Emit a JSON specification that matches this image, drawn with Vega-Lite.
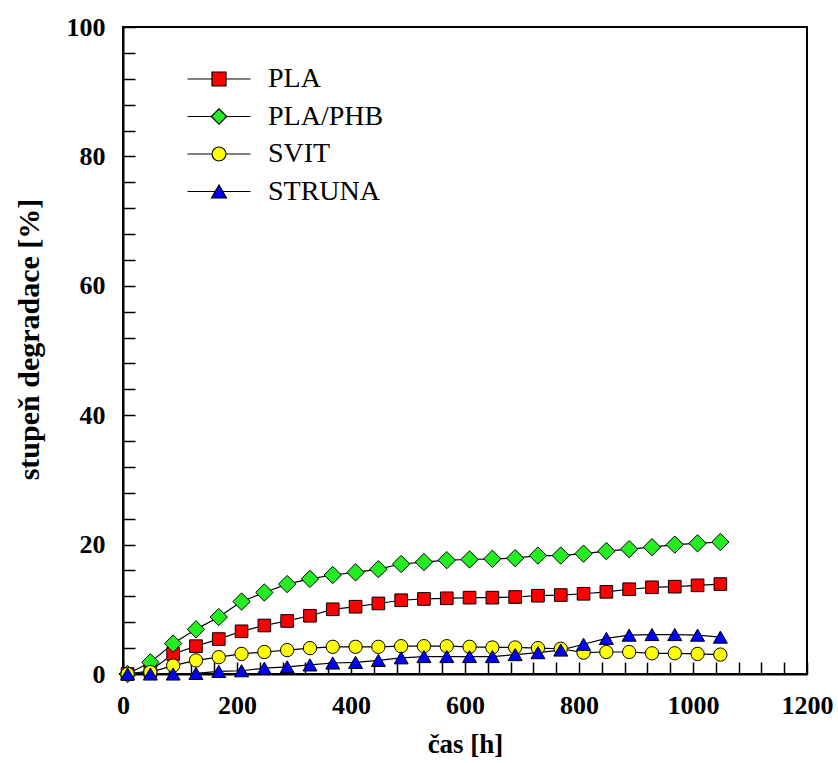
{
  "$schema": "https://vega.github.io/schema/vega-lite/v6.json",
  "width": 684,
  "height": 647,
  "autosize": "none",
  "padding": {"left": 123, "top": 27, "right": 31, "bottom": 89},
  "background": "white",
  "config": {
    "view": {"stroke": "black", "strokeWidth": 2},
    "font": "Liberation Serif"
  },
  "data": {"values": [
    {"t": 8, "s": "PLA", "v": 0}, {"t": 48, "s": "PLA", "v": 0.5}, {"t": 88, "s": "PLA", "v": 3.1}, {"t": 128, "s": "PLA", "v": 4.3}, {"t": 168, "s": "PLA", "v": 5.4}, {"t": 208, "s": "PLA", "v": 6.6}, {"t": 248, "s": "PLA", "v": 7.5}, {"t": 288, "s": "PLA", "v": 8.2}, {"t": 328, "s": "PLA", "v": 9.0}, {"t": 368, "s": "PLA", "v": 10.0}, {"t": 408, "s": "PLA", "v": 10.4}, {"t": 448, "s": "PLA", "v": 10.9}, {"t": 488, "s": "PLA", "v": 11.4}, {"t": 528, "s": "PLA", "v": 11.6}, {"t": 568, "s": "PLA", "v": 11.7}, {"t": 608, "s": "PLA", "v": 11.8}, {"t": 648, "s": "PLA", "v": 11.8}, {"t": 688, "s": "PLA", "v": 11.9}, {"t": 728, "s": "PLA", "v": 12.1}, {"t": 768, "s": "PLA", "v": 12.2}, {"t": 808, "s": "PLA", "v": 12.4}, {"t": 848, "s": "PLA", "v": 12.7}, {"t": 888, "s": "PLA", "v": 13.1}, {"t": 928, "s": "PLA", "v": 13.4}, {"t": 968, "s": "PLA", "v": 13.5}, {"t": 1008, "s": "PLA", "v": 13.7}, {"t": 1048, "s": "PLA", "v": 13.9},
    {"t": 8, "s": "PLA/PHB", "v": 0}, {"t": 48, "s": "PLA/PHB", "v": 1.8}, {"t": 88, "s": "PLA/PHB", "v": 4.7}, {"t": 128, "s": "PLA/PHB", "v": 6.9}, {"t": 168, "s": "PLA/PHB", "v": 8.8}, {"t": 208, "s": "PLA/PHB", "v": 11.2}, {"t": 248, "s": "PLA/PHB", "v": 12.6}, {"t": 288, "s": "PLA/PHB", "v": 13.9}, {"t": 328, "s": "PLA/PHB", "v": 14.7}, {"t": 368, "s": "PLA/PHB", "v": 15.3}, {"t": 408, "s": "PLA/PHB", "v": 15.7}, {"t": 448, "s": "PLA/PHB", "v": 16.2}, {"t": 488, "s": "PLA/PHB", "v": 17.0}, {"t": 528, "s": "PLA/PHB", "v": 17.3}, {"t": 568, "s": "PLA/PHB", "v": 17.6}, {"t": 608, "s": "PLA/PHB", "v": 17.7}, {"t": 648, "s": "PLA/PHB", "v": 17.8}, {"t": 688, "s": "PLA/PHB", "v": 17.9}, {"t": 728, "s": "PLA/PHB", "v": 18.3}, {"t": 768, "s": "PLA/PHB", "v": 18.3}, {"t": 808, "s": "PLA/PHB", "v": 18.6}, {"t": 848, "s": "PLA/PHB", "v": 19.0}, {"t": 888, "s": "PLA/PHB", "v": 19.3}, {"t": 928, "s": "PLA/PHB", "v": 19.6}, {"t": 968, "s": "PLA/PHB", "v": 20.0}, {"t": 1008, "s": "PLA/PHB", "v": 20.2}, {"t": 1048, "s": "PLA/PHB", "v": 20.4},
    {"t": 8, "s": "SVIT", "v": 0}, {"t": 48, "s": "SVIT", "v": 0.3}, {"t": 88, "s": "SVIT", "v": 1.3}, {"t": 128, "s": "SVIT", "v": 2.1}, {"t": 168, "s": "SVIT", "v": 2.6}, {"t": 208, "s": "SVIT", "v": 3.1}, {"t": 248, "s": "SVIT", "v": 3.4}, {"t": 288, "s": "SVIT", "v": 3.7}, {"t": 328, "s": "SVIT", "v": 4.0}, {"t": 368, "s": "SVIT", "v": 4.2}, {"t": 408, "s": "SVIT", "v": 4.2}, {"t": 448, "s": "SVIT", "v": 4.2}, {"t": 488, "s": "SVIT", "v": 4.3}, {"t": 528, "s": "SVIT", "v": 4.3}, {"t": 568, "s": "SVIT", "v": 4.3}, {"t": 608, "s": "SVIT", "v": 4.2}, {"t": 648, "s": "SVIT", "v": 4.1}, {"t": 688, "s": "SVIT", "v": 4.1}, {"t": 728, "s": "SVIT", "v": 4.0}, {"t": 768, "s": "SVIT", "v": 3.9}, {"t": 808, "s": "SVIT", "v": 3.3}, {"t": 848, "s": "SVIT", "v": 3.4}, {"t": 888, "s": "SVIT", "v": 3.4}, {"t": 928, "s": "SVIT", "v": 3.2}, {"t": 968, "s": "SVIT", "v": 3.2}, {"t": 1008, "s": "SVIT", "v": 3.1}, {"t": 1048, "s": "SVIT", "v": 3.0},
    {"t": 8, "s": "STRUNA", "v": 0}, {"t": 48, "s": "STRUNA", "v": 0}, {"t": 88, "s": "STRUNA", "v": 0}, {"t": 128, "s": "STRUNA", "v": 0.1}, {"t": 168, "s": "STRUNA", "v": 0.4}, {"t": 208, "s": "STRUNA", "v": 0.5}, {"t": 248, "s": "STRUNA", "v": 0.9}, {"t": 288, "s": "STRUNA", "v": 1.1}, {"t": 328, "s": "STRUNA", "v": 1.4}, {"t": 368, "s": "STRUNA", "v": 1.7}, {"t": 408, "s": "STRUNA", "v": 1.8}, {"t": 448, "s": "STRUNA", "v": 2.1}, {"t": 488, "s": "STRUNA", "v": 2.5}, {"t": 528, "s": "STRUNA", "v": 2.7}, {"t": 568, "s": "STRUNA", "v": 2.7}, {"t": 608, "s": "STRUNA", "v": 2.7}, {"t": 648, "s": "STRUNA", "v": 2.7}, {"t": 688, "s": "STRUNA", "v": 3.0}, {"t": 728, "s": "STRUNA", "v": 3.3}, {"t": 768, "s": "STRUNA", "v": 3.7}, {"t": 808, "s": "STRUNA", "v": 4.6}, {"t": 848, "s": "STRUNA", "v": 5.5}, {"t": 888, "s": "STRUNA", "v": 6.0}, {"t": 928, "s": "STRUNA", "v": 6.1}, {"t": 968, "s": "STRUNA", "v": 6.1}, {"t": 1008, "s": "STRUNA", "v": 6.0}, {"t": 1048, "s": "STRUNA", "v": 5.7}
  ]},
  "encoding": {
    "x": {
      "field": "t", "type": "quantitative", "title": "čas [h]",
      "scale": {"domain": [0, 1200], "nice": false, "zero": false},
      "axis": {
        "values": [0, 40, 80, 120, 160, 200, 240, 280, 320, 360, 400, 440, 480, 520, 560, 600, 640, 680, 720, 760, 800, 840, 880, 920, 960, 1000, 1040, 1080, 1120, 1160, 1200],
        "format": "d",
        "labelExpr": "datum.value % 200 === 0 ? datum.label : ''",
        "ticks": true, "tickSize": -12,
        "encode": {"ticks": {"update": {"y2": {"signal": "datum.value % 200 === 0 ? -12 : -7"}}}},
        "grid": false, "domainColor": "black", "domainWidth": 2,
        "tickColor": "black", "tickWidth": 1.5,
        "labelFont": "Liberation Serif", "labelFontWeight": "bold", "labelFontSize": 26, "labelColor": "black",
        "labelPadding": 30, "labelFlush": false, "labelOverlap": false,
        "titleFont": "Liberation Serif", "titleFontWeight": "bold", "titleFontSize": 27, "titleColor": "black", "titlePadding": 13
      }
    },
    "y": {
      "field": "v", "type": "quantitative", "title": "stupeň degradace [%]",
      "scale": {"domain": [0, 100], "nice": false},
      "axis": {
        "values": [0, 4, 8, 12, 16, 20, 24, 28, 32, 36, 40, 44, 48, 52, 56, 60, 64, 68, 72, 76, 80, 84, 88, 92, 96, 100],
        "labelExpr": "datum.value % 20 === 0 ? datum.label : ''",
        "ticks": true, "tickSize": -12,
        "encode": {"ticks": {"update": {"x2": {"signal": "datum.value % 20 === 0 ? 12 : 7"}}}},
        "grid": false, "domainColor": "black", "domainWidth": 2,
        "tickColor": "black", "tickWidth": 1.5,
        "labelFont": "Liberation Serif", "labelFontWeight": "bold", "labelFontSize": 26, "labelColor": "black",
        "labelPadding": 30, "labelFlush": false, "labelOverlap": false,
        "titleFont": "Liberation Serif", "titleFontWeight": "bold", "titleFontSize": 30, "titleColor": "black", "titlePadding": 22,
        "titleY": 312
      }
    },
    "color": {
      "field": "s", "type": "nominal", "title": null,
      "scale": {"domain": ["PLA", "PLA/PHB", "SVIT", "STRUNA"], "range": ["#ff0000", "#22ee22", "#ffff00", "#0000ff"]},
      "legend": {
        "orient": "none", "legendX": 82, "legendY": 38, "padding": 0,
        "symbolSize": 196, "symbolStrokeColor": "black", "symbolStrokeWidth": 1, "symbolOpacity": 1,
        "labelFont": "Liberation Serif", "labelFontSize": 28, "labelColor": "black", "labelOffset": 35,
        "rowPadding": 9.5,
        "encode": {"symbols": {"update": {
          "shape": {"signal": "datum.value === 'PLA' ? 'M-4.5,0H-1M1,0H4.5M-1,-1H1V1H-1Z' : datum.value === 'PLA/PHB' ? 'M-4.5,0H-1.1M1.1,0H4.5M-1.1,0L0,-1.1L1.1,0L0,1.1Z' : datum.value === 'SVIT' ? 'M-4.5,0H-1M1,0H4.5M1,0A1,1,0,1,1,-1,0A1,1,0,1,1,1,0Z' : 'M-4.5,0H-0.54M0.54,0H4.5M0,-0.93L-1.07,0.93L1.07,0.93Z'"},
          "stroke": {"value": "black"},
          "strokeWidth": {"value": 1.2}
        }}}
      }
    }
  },
  "layer": [
    {
      "mark": {"type": "line", "color": "black", "strokeWidth": 1.2},
      "encoding": {"detail": {"field": "s"}, "color": {"value": "black"}}
    },
    {
      "transform": [{"filter": "datum.s === 'PLA'"}],
      "mark": {"type": "point", "shape": "square", "filled": true, "stroke": "black", "strokeWidth": 1, "opacity": 1, "size": 160}
    },
    {
      "transform": [{"filter": "datum.s === 'PLA/PHB'"}],
      "mark": {"type": "point", "shape": "diamond", "filled": true, "stroke": "black", "strokeWidth": 1, "opacity": 1, "size": 300}
    },
    {
      "transform": [{"filter": "datum.s === 'SVIT'"}],
      "mark": {"type": "point", "shape": "circle", "filled": true, "stroke": "black", "strokeWidth": 1, "opacity": 1, "size": 177}
    },
    {
      "transform": [{"filter": "datum.s === 'STRUNA'"}],
      "mark": {"type": "point", "shape": "triangle-up", "filled": true, "stroke": "black", "strokeWidth": 1, "opacity": 1, "size": 196}
    }
  ]
}
